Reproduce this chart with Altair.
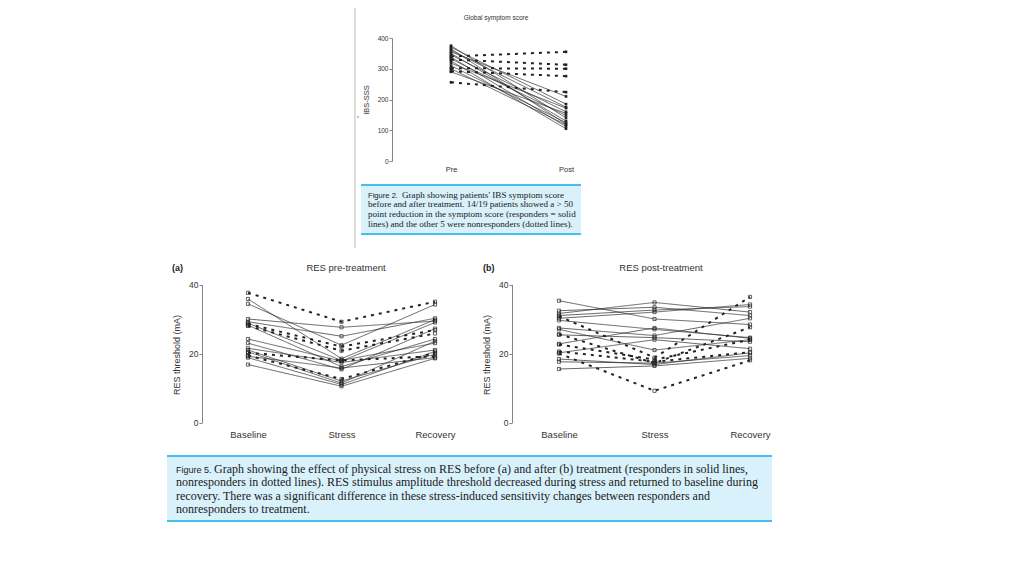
import altair as alt
import pandas as pd

# ---------------- data ----------------
GSS_PHASES = ["Pre", "Post"]
GSS_PRE_RESP = [375, 370, 365, 360, 355, 350, 345, 338, 332, 325, 318, 310, 300, 290]
GSS_POST_RESP = [140, 185, 120, 175, 210, 130, 160, 112, 148, 105, 172, 125, 118, 155]
GSS_PRE_NON = [340, 330, 302, 292, 256]
GSS_POST_NON = [355, 313, 300, 276, 224]
GSS_TICKS = [0, 100, 200, 300, 400]

RES_PHASES = ["Baseline", "Stress", "Recovery"]
RES_TICKS = [0, 20, 40]

A_BASE_RESP = [35.8, 34.4, 30.0, 29.2, 28.8, 28.2, 24.2, 23.0, 21.5, 21.0, 20.5, 19.2, 18.8, 16.8]
A_STRESS_RESP = [18.5, 22.4, 27.6, 25.0, 18.0, 16.2, 17.8, 15.4, 17.4, 12.0, 11.4, 15.8, 11.0, 10.5]
A_RECOV_RESP = [29.8, 34.2, 29.4, 30.2, 23.0, 24.2, 29.0, 27.2, 21.0, 19.8, 23.6, 18.8, 20.6, 18.6]
A_BASE_NON = [37.6, 28.6, 28.0, 20.2, 19.4]
A_STRESS_NON = [29.2, 22.0, 20.8, 18.0, 12.6]
A_RECOV_NON = [35.0, 26.8, 25.8, 19.2, 20.2]

B_BASE_RESP = [35.3, 32.4, 31.6, 31.0, 30.2, 29.6, 27.4, 27.0, 25.4, 22.8, 20.2, 18.4, 17.6, 15.5]
B_STRESS_RESP = [30.0, 33.4, 34.8, 32.6, 32.0, 27.0, 25.2, 21.0, 24.6, 27.4, 24.0, 16.8, 17.2, 16.4]
B_RECOV_RESP = [28.4, 31.0, 32.0, 33.6, 34.2, 24.6, 30.2, 24.0, 23.4, 24.4, 21.4, 20.2, 19.4, 18.6]
B_BASE_NON = [30.8, 25.6, 22.6, 20.6, 20.0]
B_STRESS_NON = [18.8, 17.2, 18.2, 17.6, 9.2]
B_RECOV_NON = [36.4, 27.6, 24.0, 20.4, 18.0]

CAP2_HEAD = "Figure 2."
CAP2_LINE1 = "Graph  showing patients' IBS symptom score"
CAP2_REST = ("before and after treatment. 14/19 patients showed a > 50\n"
             "point reduction in the symptom score (responders = solid\n"
             "lines) and the other 5 were nonresponders (dotted lines).")
CAP5_HEAD = "Figure 5."
CAP5_LINE1 = "Graph  showing the effect of physical stress on RES before (a) and after (b) treatment (responders in solid lines,"
CAP5_REST = ("nonresponders in dotted lines). RES stimulus amplitude threshold decreased during stress and returned to baseline during\n"
             "recovery. There was a significant difference in these stress-induced sensitivity changes between responders and\n"
             "nonresponders to treatment.")

GROUPS = ["responder", "nonresponder"]


def long_df(phases, resp_cols, non_cols):
    rows = []
    pid = 0
    for cols, grp in ((resp_cols, "responder"), (non_cols, "nonresponder")):
        for i in range(len(cols[0])):
            for ph, col in zip(phases, cols):
                rows.append({"pid": pid, "phase": ph, "value": col[i], "group": grp})
            pid += 1
    return pd.DataFrame(rows)


gss_df = long_df(GSS_PHASES, [GSS_PRE_RESP, GSS_POST_RESP], [GSS_PRE_NON, GSS_POST_NON])
a_df = long_df(RES_PHASES, [A_BASE_RESP, A_STRESS_RESP, A_RECOV_RESP],
               [A_BASE_NON, A_STRESS_NON, A_RECOV_NON])
b_df = long_df(RES_PHASES, [B_BASE_RESP, B_STRESS_RESP, B_RECOV_RESP],
               [B_BASE_NON, B_STRESS_NON, B_RECOV_NON])

SANS = "Liberation Sans"
SERIF = "Liberation Serif"
INK = "#333333"


def panel(df, phases, xrange, yrange, ydomain, yticks, yaxis_x, xaxis_y, lab_size,
          pt_size, pt_filled, dash, widths, xlab_pad):
    x = alt.X("phase:N", sort=phases,
              scale=alt.Scale(domain=phases, range=xrange, padding=0),
              axis=alt.Axis(orient="bottom", offset=xaxis_y - 560, domain=False, ticks=False,
                            labelAngle=0, labelFontSize=lab_size + 1, labelFont=SANS,
                            labelColor=INK, labelPadding=xlab_pad, title=None, grid=False))
    y = alt.Y("value:Q",
              scale=alt.Scale(domain=ydomain, range=yrange, nice=False, zero=True),
              axis=alt.Axis(orient="left", offset=-yaxis_x, values=yticks, tickSize=3,
                            tickColor="#666666", domainColor="#666666", tickWidth=0.8,
                            domainWidth=0.8, labelFontSize=lab_size, labelFont=SANS,
                            labelColor=INK, labelPadding=1, title=None, grid=False))
    base = alt.Chart(df)
    lines = base.mark_line(color="#222222").encode(
        x=x, y=y, detail="pid:N",
        strokeDash=alt.StrokeDash("group:N", scale=alt.Scale(domain=GROUPS, range=dash), legend=None),
        strokeWidth=alt.StrokeWidth("group:N", scale=alt.Scale(domain=GROUPS, range=widths), legend=None),
    )
    pts = base.mark_point(shape="square", size=pt_size, filled=pt_filled, color="#222222",
                          strokeWidth=0.7, opacity=1).encode(x=x, y=y)
    return alt.layer(lines, pts)


top = panel(gss_df, GSS_PHASES, [443, 558], [153, 30], [0, 400], GSS_TICKS, 384, 153, 6.5,
            7, True, [[1, 0], [3, 5]], [0.7, 2.0], 4)
pa = panel(a_df, RES_PHASES, [240, 427], [414.5, 276.5], [0, 40], RES_TICKS, 194, 414.5, 8.5,
           10, False, [[1, 0], [3, 5]], [0.7, 1.8], 7)
pb = panel(b_df, RES_PHASES, [551, 742], [414.5, 276.5], [0, 40], RES_TICKS, 504, 414.5, 8.5,
           10, False, [[1, 0], [3, 5]], [0.7, 1.8], 7)

one = pd.DataFrame({"k": [0]})


def text(t, x, y, size, font=SANS, weight="normal", angle=0, align="left", baseline="middle",
         color=INK, line_height=None):
    kw = dict(fontSize=size, font=font, fontWeight=weight, align=align, baseline=baseline,
              color=color, angle=angle)
    if line_height is not None:
        kw["lineBreak"] = "\n"
        kw["lineHeight"] = line_height
    return alt.Chart(pd.DataFrame({"t": [t]})).mark_text(**kw).encode(
        text="t:N", x=alt.value(x), y=alt.value(y))


def box(x1, x2, y1, y2):
    fill = alt.Chart(one).mark_rect(color="#d8f1fb").encode(
        x=alt.value(x1), x2=alt.value(x2), y=alt.value(y1), y2=alt.value(y2))
    t = alt.Chart(one).mark_rule(color="#47bfee", strokeWidth=2).encode(
        x=alt.value(x1), x2=alt.value(x2), y=alt.value(y1))
    b = alt.Chart(one).mark_rule(color="#47bfee", strokeWidth=2).encode(
        x=alt.value(x1), x2=alt.value(x2), y=alt.value(y2))
    return [fill, t, b]


side_line = alt.Chart(one).mark_rule(color="#dddddd", strokeWidth=2).encode(
    x=alt.value(347), y=alt.value(0), y2=alt.value(240))
side_tick = alt.Chart(one).mark_rule(color="#888888", strokeWidth=1).encode(
    x=alt.value(350), y=alt.value(108), y2=alt.value(110))

AB = "alphabetic"
layers = []
layers += box(353, 573, 177, 226)
layers += box(159, 764, 448, 513)
layers += [side_line, side_tick]
layers += [
    text("Global symptom score", 488, 10, 6.5, align="center"),
    text("IBS-SSS", 359, 92, 7.5, angle=270, align="center"),
    text("(a)", 164, 260, 9, weight="bold", color="#222222"),
    text("RES pre-treatment", 338, 260, 9.5, align="center"),
    text("RES threshold (mA)", 169, 347, 9, angle=270, align="center"),
    text("(b)", 475, 260, 9, weight="bold", color="#222222"),
    text("RES post-treatment", 653, 260, 9.5, align="center"),
    text("RES threshold (mA)", 479, 347, 9, angle=270, align="center"),
    text(CAP2_HEAD, 360, 189.5, 7.6, baseline=AB, color="#1a1a1a"),
    text(CAP2_LINE1, 394, 189.5, 9.1, font=SERIF, baseline=AB, color="#1a1a1a"),
    text(CAP2_REST, 360, 199.3, 9.1, font=SERIF, baseline=AB, color="#1a1a1a", line_height=9.8),
    text(CAP5_HEAD, 168, 464.5, 9.0, baseline=AB, color="#1a1a1a"),
    text(CAP5_LINE1, 206, 464.5, 12.0, font=SERIF, baseline=AB, color="#1a1a1a"),
    text(CAP5_REST, 168, 478.1, 12.0, font=SERIF, baseline=AB, color="#1a1a1a", line_height=13.6),
]
layers += [top, pa, pb]

chart = alt.layer(*layers).resolve_scale(x="independent", y="independent").resolve_axis(
    x="independent", y="independent").properties(
    width=1008, height=560, autosize=alt.AutoSizeParams(type="none"), padding=0,
    background="white").configure_view(strokeWidth=0)

chart.save("out.html", embed_options={"renderer": "svg", "actions": False})
